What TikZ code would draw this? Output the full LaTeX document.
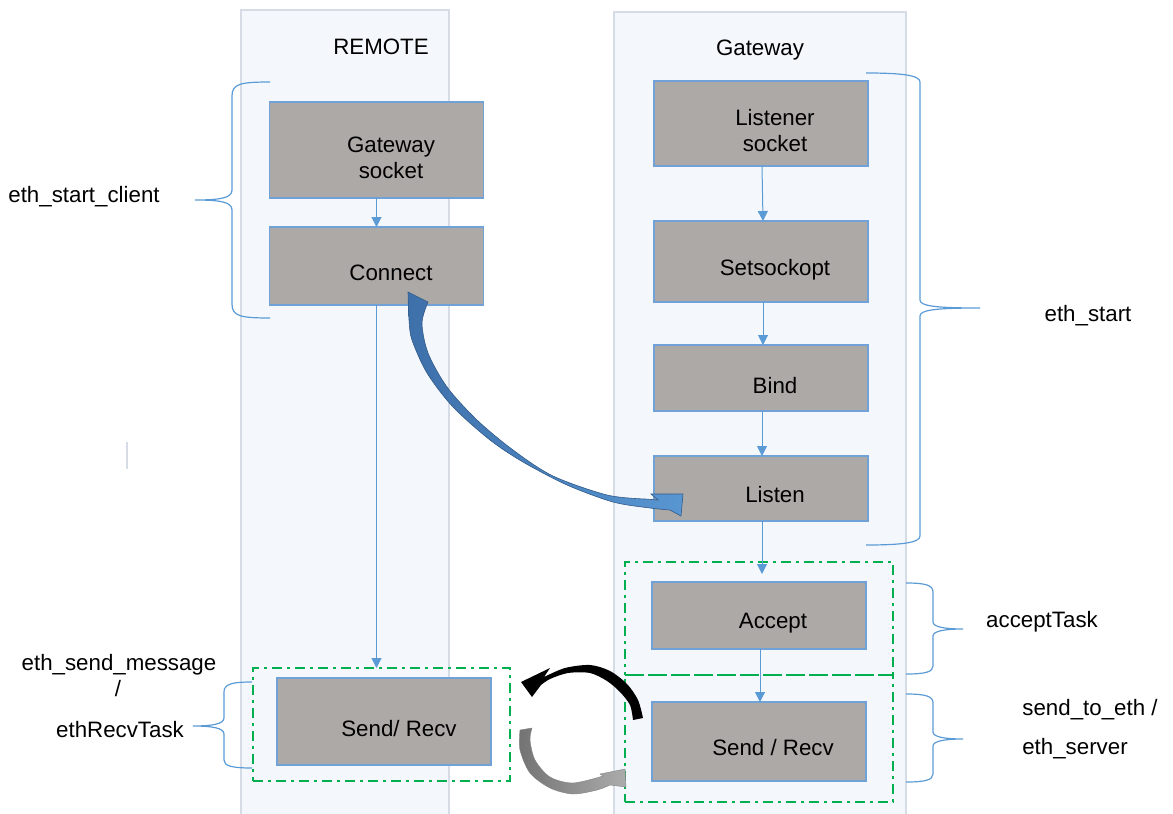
\documentclass[tikz,border=0pt]{standalone}
\usepackage{fontspec}
\setmainfont{Liberation Sans}
\usetikzlibrary{arrows.meta}

\definecolor{lanefill}{RGB}{244,248,253}
\definecolor{laneline}{RGB}{214,220,229}
\definecolor{boxfill}{RGB}{173,169,167}
\definecolor{boxline}{RGB}{112,162,216}
\definecolor{flow}{RGB}{91,155,213}
\definecolor{taskgreen}{RGB}{0,176,80}
\definecolor{bigblue}{RGB}{62,112,170}
\definecolor{bigbluelight}{RGB}{88,150,210}
\definecolor{greydark}{RGB}{115,115,115}
\definecolor{greylight}{RGB}{172,172,172}

\tikzset{
  lane/.style={fill=lanefill, draw=laneline, line width=1.5pt},
  stepbox/.style={fill=boxfill, draw=boxline, line width=1.2pt, outer sep=0pt,
                  minimum width=214pt, inner sep=0pt},
  taskbox/.style={draw=taskgreen, line width=2.2pt, outer sep=0pt, inner sep=0pt,
                  dash pattern=on 10pt off 5pt on 3pt off 5pt},
  flowarrow/.style={draw=flow, line width=1pt, -{Triangle[width=10pt,length=10pt]}},
  brace/.style={draw=flow, line width=1.2pt},
  txt/.style={inner sep=0pt, align=center}
}

\begin{document}
\begin{tikzpicture}[x=1pt, y=-1pt, font=\fontsize{22.3}{26}\selectfont]
\useasboundingbox (0,0) rectangle (1173,814);

% swim lanes
\path[lane] (241,10) rectangle (449,830);
\path[lane] (614,12) rectangle (906,830);
\node[txt] (tRemote) at (381,47) {REMOTE};
\node[txt] (tGateway) at (760,50) {Gateway};

% task groups (dash-dot frames)
\node[taskbox, minimum width=257pt, minimum height=113pt] (gL) at (381.5,724.5) {};
\node[taskbox, minimum width=268pt, minimum height=113pt] (gA) at (759,618.5) {};
\node[taskbox, minimum width=268pt, minimum height=127pt] (gS) at (759,738.5) {};

% processing steps, client side
\node[stepbox, minimum height=96pt] (gws) at (376.5,150) {};
\node[stepbox, minimum height=78pt] (con) at (376.5,266) {};
\node[stepbox, minimum height=87pt] (srL) at (384,721.5) {};
% processing steps, gateway side
\node[stepbox, minimum height=85pt] (lis) at (761,123.5) {};
\node[stepbox, minimum height=81pt] (sso) at (761,261.5) {};
\node[stepbox, minimum height=66pt] (bnd) at (761,378) {};
\node[stepbox, minimum height=65pt] (lst) at (761,488.5) {};
\node[stepbox, minimum height=67pt] (acc) at (759,615.5) {};
\node[stepbox, minimum height=79pt] (srG) at (759,741.5) {};

% step texts
\node[txt] at (391,158) {Gateway\\socket};
\node[txt] at (391,273) {Connect};
\node[txt] at (399,729) {Send/ Recv};
\node[txt] at (775,131) {Listener\\socket};
\node[txt] at (775,270) {Setsockopt};
\node[txt] at (775,386) {Bind};
\node[txt] at (775,495) {Listen};
\node[txt] at (773,623) {Accept};
\node[txt] at (773,748) {Send / Recv};

% straight flow connectors
\draw[flowarrow] (gws.south) -- (con.north);
\draw[flowarrow] (con.south) -- (con.south |- gL.north);
\draw[flowarrow] ([xshift=1pt]lis.south) -- ([xshift=2pt]sso.north);
\draw[flowarrow] ([xshift=2pt]sso.south) -- ([xshift=2pt]bnd.north);
\draw[flowarrow] ([xshift=1pt]bnd.south) -- ([xshift=1pt]lst.north);
\draw[flowarrow, shorten >=8pt] ([xshift=1pt]lst.south) -- ([xshift=3pt]acc.north);
\draw[flowarrow] ([xshift=1pt]acc.south) -- ([xshift=1pt]srG.north);

% braces with their labels
\draw[brace] (270,82) .. controls (240,82) and (232,84) .. (232,96)
  -- (232,190) .. controls (232,198) and (220,200) .. (195,200)
  .. controls (220,200) and (232,202) .. (232,210)
  -- (232,304) .. controls (232,316) and (240,318) .. (270,318);
\node[txt] (lClient) at (84,197) {eth\_start\_client};

\draw[brace] (252,682) .. controls (232,682) and (224,684) .. (224,692)
  -- (224,718) .. controls (224,724) and (212,726) .. (193,726)
  .. controls (212,726) and (224,728) .. (224,734)
  -- (224,760) .. controls (224,766) and (232,768) .. (252,768);
\node[txt] (lSend) at (119,665) {eth\_send\_message};
\node[txt] (lSlash) at (118,689) {/};
\node[txt] (lRecv) at (120,730) {ethRecvTask};

\draw[brace] (866,73) .. controls (900,73) and (920,75) .. (920,82)
  -- (920,300) .. controls (920,306) and (935,308) .. (980,308)
  .. controls (935,308) and (920,310) .. (920,316)
  -- (920,536) .. controls (920,543) and (900,545) .. (866,545);
\node[txt] (lStart) at (1088,316) {eth\_start};

\draw[brace] (906,583) .. controls (925,583) and (933,585) .. (933,592)
  -- (933,622) .. controls (933,627) and (945,629) .. (963,629)
  .. controls (945,629) and (933,631) .. (933,636)
  -- (933,666) .. controls (933,672) and (925,674) .. (906,674);
\node[txt] (lAccept) at (1042,622) {acceptTask};

\draw[brace] (906,694) .. controls (925,694) and (933,696) .. (933,703)
  -- (933,732) .. controls (933,737) and (945,739) .. (963,739)
  .. controls (945,739) and (933,741) .. (933,746)
  -- (933,774) .. controls (933,780) and (925,782) .. (906,782);
\node[txt] (lSte) at (1090,710) {send\_to\_eth /};
\node[txt] (lSrv) at (1075,749) {eth\_server};

% small separator mark
\draw[draw=laneline, line width=1.2pt] (127,442) -- (127,469);

% connect request: tapered curved arrow from Connect to Listen
\shade[left color=bigblue, right color=bigbluelight, draw=bigblue!80!black, line width=0.6pt]
  plot[smooth] coordinates {(408,292) (409,320) (412,340) (427,373) (453,407)
                            (490,440) (523,462) (567,485) (613,502) (650,508) (670,510)}
  -- (681,516) -- (683,494) -- (651,494) -- (658,500)
  -- plot[smooth] coordinates {(645,499) (607,495) (553,476) (513,450) (477,420)
                               (447,387) (428,353) (422,323) (428,302)}
  -- cycle;

% data exchange: black arrow towards the client
\fill[black]
  plot[smooth] coordinates {(544,677) (565,668) (590,665) (610,671) (627,684)
                            (638,700) (643,718)}
  -- plot[smooth] coordinates {(633,720) (630,705) (620,692) (607,681) (590,673)
                               (568,673) (550,679) (541,685)}
  -- (532,697) -- (521,682) -- (550,668) -- cycle;

% data exchange: grey arrow towards the gateway
\shade[left color=greydark, right color=greylight, draw=greydark!90, line width=0.4pt]
  plot[smooth] coordinates {(520,730) (520,750) (530,773) (550,788) (573,794)
                            (597,790) (610,785)}
  -- (626,787) -- (625,769) -- (600,774)
  -- plot[smooth] coordinates {(603,776) (573,783) (550,777) (535,760) (530,740)
                               (532,728)}
  -- cycle;
\end{tikzpicture}
\end{document}
